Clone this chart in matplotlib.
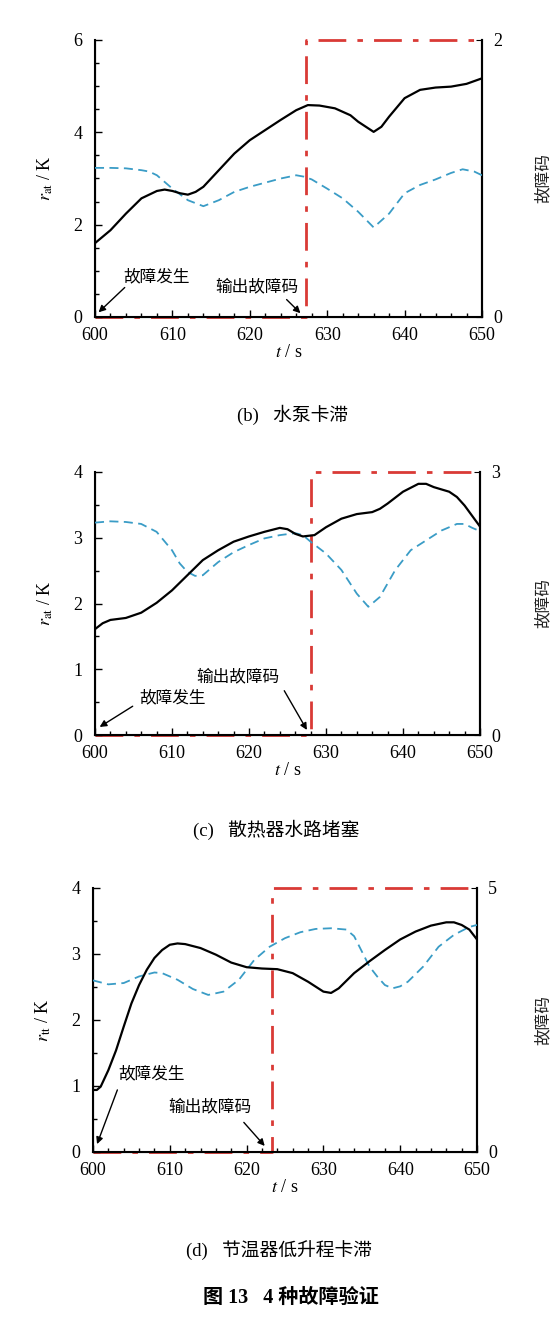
import numpy as np
import matplotlib.pyplot as plt
from matplotlib.ticker import MultipleLocator

plt.rcParams['font.family'] = ['Liberation Serif', 'Noto Sans CJK SC']
plt.rcParams['mathtext.fontset'] = 'stix'

# (b) 水泵卡滞
t_b = [600, 602, 604, 606, 608, 609, 610, 611, 612, 613, 614, 616, 618, 620, 622, 624, 626,
       627.5, 629, 631, 633, 634, 636, 637, 638, 640, 642, 644, 646, 648, 650]
r_b = [1.6, 1.88, 2.24, 2.57, 2.73, 2.76, 2.73, 2.68, 2.65, 2.71, 2.82, 3.18, 3.54, 3.83, 4.05,
       4.27, 4.48, 4.59, 4.58, 4.52, 4.37, 4.23, 4.01, 4.12, 4.34, 4.74, 4.92, 4.97, 4.99, 5.05, 5.17]
tc_b = [600, 602, 604, 606, 607, 608, 610, 612, 614, 616, 618, 620, 622, 624, 626, 627, 628,
        630, 632, 634, 636, 638, 640, 642, 644, 646, 647.5, 649, 650]
c_b = [3.23, 3.23, 3.22, 3.18, 3.15, 3.07, 2.78, 2.53, 2.40, 2.53, 2.71, 2.82, 2.91, 3.00, 3.07,
       3.04, 2.98, 2.78, 2.57, 2.28, 1.94, 2.24, 2.68, 2.86, 2.98, 3.12, 3.20, 3.15, 3.07]

# (c) 散热器水路堵塞
t_c = [600, 601, 602, 604, 606, 608, 610, 612, 614, 616, 618, 620, 622, 624, 625, 626, 627,
       628.5, 630, 632, 634, 636, 637, 638, 640, 642, 643, 644, 646, 647, 648, 650]
r_c = [1.61, 1.70, 1.75, 1.78, 1.86, 2.01, 2.20, 2.43, 2.66, 2.81, 2.94, 3.02, 3.09, 3.15, 3.13,
       3.06, 3.02, 3.04, 3.16, 3.29, 3.36, 3.39, 3.44, 3.52, 3.70, 3.82, 3.82, 3.77, 3.70, 3.62,
       3.49, 3.17]
tc_c = [600, 602, 604, 606, 608, 610, 611, 612, 613, 614, 616, 618, 620, 622, 624, 626, 627,
        628, 630, 632, 634, 635.5, 637, 639, 641, 643, 645, 647, 648, 649, 650]
c_c = [3.23, 3.25, 3.24, 3.21, 3.09, 2.81, 2.61, 2.48, 2.42, 2.43, 2.63, 2.78, 2.89, 2.99, 3.04,
       3.07, 3.04, 2.94, 2.76, 2.51, 2.15, 1.95, 2.10, 2.51, 2.81, 2.96, 3.11, 3.21, 3.21, 3.15, 3.10]

# (d) 节温器低升程卡滞
t_d = [600, 600.5, 601, 602, 603, 604, 605, 606, 607, 608, 609, 610, 611, 612, 614, 616, 618,
       620, 622, 624, 626, 628, 630, 631, 632, 634, 636, 638, 640, 642, 644, 646, 647, 648, 649, 650]
r_d = [0.94, 0.94, 0.99, 1.24, 1.54, 1.90, 2.25, 2.53, 2.76, 2.94, 3.06, 3.14, 3.16, 3.15, 3.09,
       2.99, 2.87, 2.80, 2.78, 2.77, 2.71, 2.58, 2.43, 2.41, 2.48, 2.71, 2.89, 3.06, 3.22, 3.34,
       3.43, 3.48, 3.48, 3.44, 3.37, 3.22]
tc_d = [600, 602, 604, 606, 608, 609, 611, 613, 615, 617, 619, 621, 623, 625, 627, 629, 631, 633,
        634, 635, 636, 637, 638, 639, 640, 641, 643, 645, 647, 649, 650]
c_d = [2.60, 2.54, 2.56, 2.66, 2.72, 2.71, 2.61, 2.47, 2.38, 2.43, 2.61, 2.91, 3.11, 3.24, 3.33,
       3.38, 3.39, 3.37, 3.27, 3.04, 2.81, 2.66, 2.53, 2.48, 2.51, 2.58, 2.81, 3.11, 3.29, 3.41, 3.44]

code_times = [627.3, 628.0, 623.3]
code_values = [2, 3, 5]
ymax = [6, 4, 4]
ylabels = [r'$r_{\mathrm{at}}$ / K', r'$r_{\mathrm{at}}$ / K', r'$r_{\mathrm{tt}}$ / K']
captions = ['(b)   水泵卡滞', '(c)   散热器水路堵塞', '(d)   节温器低升程卡滞']

# annotation text position, arrow start, arrow tip (data coords)
fault_ann = [((603.6, 0.87), (604.1, 0.68), (600.2, 0.06)),
             ((605.8, 0.56), (605.2, 0.46), (600.3, 0.1)),
             ((603.3, 1.17), (603.3, 0.98), (600.4, 0.08))]
code_ann = [((615.5, 0.65), (624.5, 0.42), (626.8, 0.04)),
            ((613.2, 0.88), (624.4, 0.71), (627.7, 0.04)),
            ((609.8, 0.67), (619.4, 0.48), (622.6, 0.06))]

series = [(t_b, r_b, tc_b, c_b), (t_c, r_c, tc_c, c_c), (t_d, r_d, tc_d, c_d)]
boxes = [(95, 40, 387, 277), (95, 472, 385, 263), (93, 888, 384, 264)]
cap_y = [415, 830, 1250]
cap_x = [293, 276, 279]

W, H = 560, 1330
fig = plt.figure(figsize=(5.6, 13.3), dpi=100)

for i in range(3):
    x0, y0, w, h = boxes[i]
    ax = fig.add_axes([x0 / W, 1 - (y0 + h) / H, w / W, h / H])
    t, r, tc, c = series[i]
    ax.plot(tc, c, color='#3a9cc6', lw=1.3, dashes=(5, 3), zorder=3)
    ax.plot(t, r, color='black', lw=1.6, zorder=4)
    ax.set_xlim(600, 650)
    ax.set_ylim(0, ymax[i])
    ax.xaxis.set_major_locator(MultipleLocator(10))
    ax.xaxis.set_minor_locator(MultipleLocator(2))
    ax.yaxis.set_major_locator(MultipleLocator(2 if ymax[i] == 6 else 1))
    ax.yaxis.set_minor_locator(MultipleLocator(0.5))
    ax.tick_params(which='both', direction='in', labelsize=13, width=1.0, top=False)
    ax.tick_params(which='major', length=5)
    ax.tick_params(which='minor', length=3)
    ax.tick_params(axis='x', pad=7)
    ax.tick_params(axis='y', pad=9)
    ax.spines['top'].set_visible(False)
    for s in ['left', 'bottom', 'right']:
        ax.spines[s].set_linewidth(1.5)
    ax.set_xlabel(r'$t$ / s', fontsize=13, labelpad=0)
    ax.set_ylabel(ylabels[i], fontsize=13)
    ax.yaxis.set_label_coords(-40 / w, 0.5)

    ax2 = ax.twinx()
    ax2.set_ylim(0, code_values[i])
    ax2.set_yticks([0, code_values[i]])
    ax2.tick_params(direction='in', labelsize=13, pad=8, length=4)
    ax2.spines['top'].set_visible(False)
    ax2.spines['right'].set_linewidth(1.5)
    ax2.plot([600, code_times[i], code_times[i], 650], [0, 0, code_values[i], code_values[i]],
             color='#d93a36', lw=2.0, dashes=(10, 4, 2, 4), clip_on=False, zorder=2)
    ax2.set_ylabel('故障码', fontsize=12, rotation=90, color='#222222')
    ax2.yaxis.set_label_coords((536 - x0) / w, 0.5)

    (tx, ty), st, tip = fault_ann[i]
    ax.text(tx, ty, '故障发生', fontsize=12, ha='left', va='center', zorder=6)
    ax.annotate('', xy=tip, xytext=st,
                arrowprops=dict(arrowstyle='-|>', color='black', lw=1.0, mutation_scale=10), zorder=6)
    (tx, ty), st, tip = code_ann[i]
    ax.text(tx, ty, '输出故障码', fontsize=12, ha='left', va='center', zorder=6)
    ax.annotate('', xy=tip, xytext=st,
                arrowprops=dict(arrowstyle='-|>', color='black', lw=1.0, mutation_scale=10), zorder=6)
    ax.set_zorder(ax2.get_zorder() + 1)
    ax.patch.set_visible(False)

    fig.text(cap_x[i] / W, 1 - cap_y[i] / H, captions[i], fontsize=13.5, ha='center', va='center')

fig.text(291 / W, 1 - 1298 / H, '图 13   4 种故障验证', fontsize=14.5, fontweight='bold',
         ha='center', va='center')

fig.savefig('out.png', dpi=100, facecolor='white')
